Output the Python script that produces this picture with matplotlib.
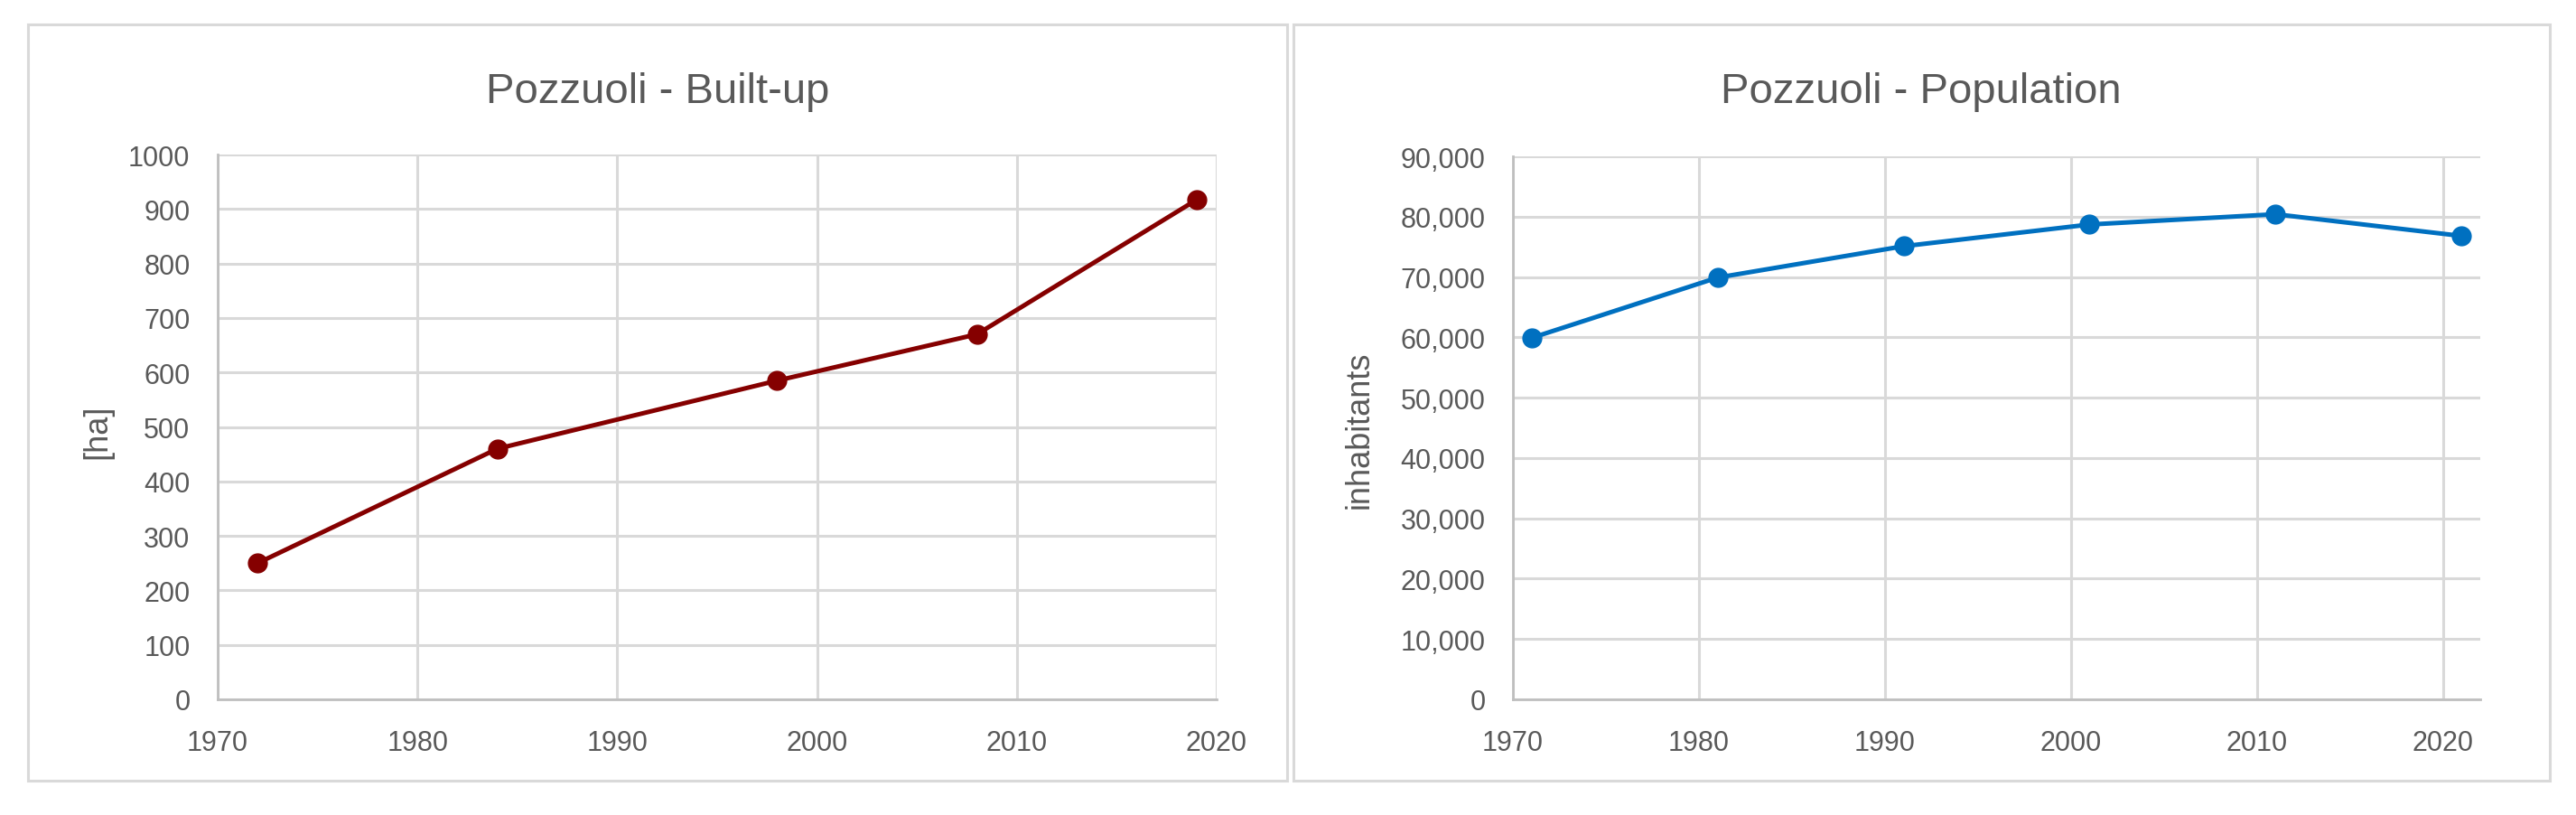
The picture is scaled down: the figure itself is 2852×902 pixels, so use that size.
import matplotlib
matplotlib.use("Agg")
import matplotlib.pyplot as plt
from matplotlib.patches import Rectangle
from matplotlib.ticker import FuncFormatter

# data
built_years = [1972, 1984, 1998, 2008, 2019]
built_ha = [250, 460, 585, 670, 917]

pop_years = [1971, 1981, 1991, 2001, 2011, 2021]
pop_inhabitants = [59900, 69900, 75100, 78700, 80400, 76800]

x_ticks = [1970, 1980, 1990, 2000, 2010, 2020]
built_yticks = list(range(0, 1001, 100))
pop_yticks = list(range(0, 90001, 10000))

titles = ["Pozzuoli - Built-up", "Pozzuoli - Population"]
ylabels = ["[ha]", "inhabitants"]

W, H = 2852, 903
DPI = 100
TEXT = "#595959"
GRID = "#D9D9D9"
SPINE = "#BFBFBF"

matplotlib.rcParams["font.family"] = ["Liberation Sans", "DejaVu Sans"]

fig = plt.figure(figsize=(W / DPI, H / DPI), dpi=DPI)
fig.patch.set_facecolor("white")


def fx(px):
    return px / W


def fy(py):
    return 1 - py / H


# outer chart frames
for x0, x1 in [(31, 1425), (1432, 2823)]:
    fig.patches.append(Rectangle((fx(x0), fy(865)), fx(x1 - x0), (865 - 28) / H,
                                 transform=fig.transFigure, fill=False,
                                 edgecolor=GRID, linewidth=2.2))

ax1 = fig.add_axes([fx(241), fy(775), fx(1347 - 241), (775 - 172) / H])
ax2 = fig.add_axes([fx(1675), fy(775), fx(2746 - 1675), (775 - 174) / H])


def style(ax):
    ax.set_facecolor("white")
    for s in ["top", "right"]:
        ax.spines[s].set_visible(False)
    for s in ["left", "bottom"]:
        ax.spines[s].set_color(SPINE)
        ax.spines[s].set_linewidth(2.0)
    ax.grid(True, color=GRID, linewidth=2.2)
    ax.set_axisbelow(True)
    ax.tick_params(axis="both", length=0, labelsize=22, labelcolor=TEXT)
    ax.tick_params(axis="y", pad=22)
    ax.tick_params(axis="x", pad=24)


style(ax1)
ax1.plot(built_years, built_ha, color="#850000", linewidth=3.6, marker="o",
         markersize=15, zorder=3, clip_on=False)
ax1.set_xlim(1970, 2020)
ax1.set_ylim(0, 1000)
ax1.set_xticks(x_ticks)
ax1.set_yticks(built_yticks)

style(ax2)
ax2.plot(pop_years, pop_inhabitants, color="#0070C0", linewidth=3.6, marker="o",
         markersize=15, zorder=3, clip_on=False)
ax2.set_xlim(1970, 2022)
ax2.set_ylim(0, 90000)
ax2.set_xticks(x_ticks)
ax2.set_yticks(pop_yticks)
ax2.yaxis.set_major_formatter(FuncFormatter(lambda v, p: f"{v:,.0f}"))

# titles and axis labels
fig.text(fx(728), fy(114), titles[0], ha="center", va="baseline",
         fontsize=34, color=TEXT)
fig.text(fx(2127), fy(114), titles[1], ha="center", va="baseline",
         fontsize=34, color=TEXT)
fig.text(fx(108), fy(478), ylabels[0], ha="center", va="center",
         rotation=90, fontsize=26, color=TEXT)
fig.text(fx(1505), fy(476), ylabels[1], ha="center", va="center",
         rotation=90, fontsize=26, color=TEXT)

fig.savefig("out.png", dpi=DPI)
